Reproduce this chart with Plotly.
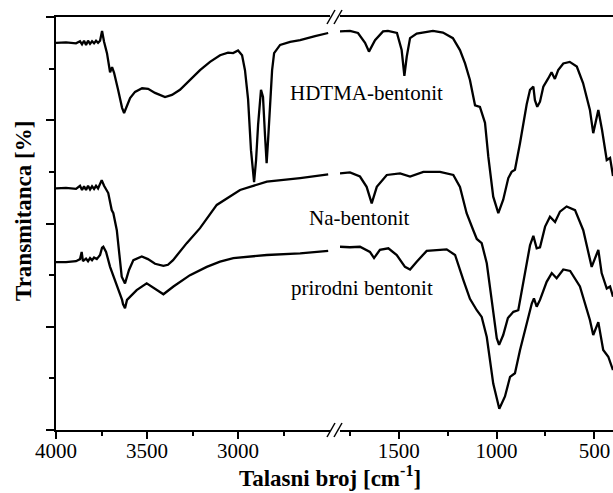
import plotly.graph_objects as go

# ---------------- data (wavenumber cm^-1, transmittance, arbitrary units) ----------------
# HDTMA-bentonit
hd_w_hi = [4000, 3945, 3890, 3868, 3857, 3846, 3835, 3824, 3813, 3802, 3791, 3780, 3769, 3758, 3747, 3736,
           3720, 3703, 3692, 3681, 3659, 3637, 3626, 3610, 3593, 3566, 3527, 3494, 3456, 3401, 3363, 3319,
           3264, 3209, 3154, 3099, 3055, 3027, 3000, 2978, 2962, 2945, 2929, 2912, 2901, 2890, 2874, 2863,
           2852, 2843, 2835, 2824, 2813, 2802, 2769, 2714, 2659, 2577, 2505]
hd_t_hi = [75.0, 75.1, 74.9, 75.3, 74.7, 75.4, 74.6, 75.4, 74.8, 75.3, 74.9, 75.4, 75.0, 75.4, 77.3, 75.2,
           73.0, 69.3, 70.3, 69.2, 65.9, 62.4, 61.4, 62.9, 64.3, 65.5, 66.2, 66.1, 65.3, 64.5, 64.9, 65.9,
           67.8, 69.7, 71.3, 72.6, 73.1, 73.0, 73.5, 72.6, 69.7, 64.1, 54.2, 48.0, 52.3, 59.1, 65.9, 64.5,
           57.1, 51.7, 56.2, 63.3, 69.7, 73.0, 74.6, 75.2, 75.5, 76.3, 76.9]
hd_w_lo = [1800, 1749, 1708, 1672, 1652, 1621, 1580, 1555, 1509, 1485, 1471, 1459, 1442, 1408, 1325, 1274,
           1223, 1187, 1161, 1136, 1110, 1085, 1059, 1042, 1017, 991, 966, 940, 923, 906, 880, 846, 829,
           812, 804, 792, 778, 761, 736, 719, 702, 685, 659, 626, 590, 558, 523, 506, 480, 461, 437, 420, 405]
hd_t_lo = [77.2, 77.3, 76.9, 75.0, 73.3, 75.5, 77.2, 77.3, 76.9, 73.6, 68.6, 72.3, 75.9, 76.8, 77.3, 77.0,
           75.9, 73.6, 71.0, 67.8, 62.9, 62.6, 59.5, 52.9, 45.2, 42.0, 44.6, 48.8, 50.0, 50.4, 55.6, 63.1, 65.9,
           66.5, 63.9, 62.6, 63.6, 66.5, 68.1, 69.3, 68.0, 69.7, 71.0, 71.3, 70.4, 67.2, 62.0, 57.5, 62.0, 58.1,
           52.3, 52.7, 49.2]

# Na-bentonit
na_w_hi = [4000, 3945, 3890, 3868, 3857, 3846, 3835, 3824, 3813, 3802, 3791, 3780, 3769, 3749, 3736, 3713,
           3694, 3685, 3666, 3639, 3621, 3599, 3575, 3529, 3495, 3456, 3410, 3385, 3357, 3282, 3209, 3117,
           2989, 2842, 2659, 2505]
na_t_hi = [46.8, 46.9, 46.7, 47.3, 46.5, 47.2, 46.5, 47.3, 46.6, 47.2, 46.7, 47.3, 46.8, 48.4, 47.3, 45.9,
           42.6, 42.0, 38.7, 29.7, 28.4, 31.0, 32.9, 33.6, 33.1, 32.2, 31.8, 32.0, 32.9, 36.2, 39.1, 43.6,
           46.5, 48.1, 48.8, 49.5]
na_w_lo = [1800, 1749, 1698, 1664, 1638, 1612, 1561, 1493, 1442, 1374, 1289, 1221, 1187, 1153, 1119, 1101,
           1076, 1050, 1025, 999, 987, 966, 942, 914, 889, 863, 829, 812, 795, 778, 752, 727, 701, 676, 642,
           599, 557, 514, 480, 463, 437, 420, 405]
na_t_lo = [49.7, 49.9, 49.1, 47.1, 43.9, 47.1, 49.4, 49.7, 49.1, 50.0, 50.0, 49.4, 47.1, 42.0, 38.7, 37.0,
           36.2, 32.3, 25.2, 17.8, 16.5, 18.4, 21.7, 22.9, 23.2, 28.7, 35.8, 37.6, 35.2, 35.4, 39.4, 41.3,
           40.3, 42.3, 43.3, 42.6, 38.7, 31.6, 34.9, 30.4, 27.4, 27.8, 25.8]

# prirodni bentonit
pr_w_hi = [4000, 3945, 3890, 3868, 3859, 3852, 3835, 3824, 3813, 3802, 3791, 3776, 3758, 3747, 3740, 3725,
           3703, 3676, 3648, 3637, 3632, 3621, 3610, 3593, 3557, 3502, 3447, 3410, 3355, 3264, 3172, 3099,
           3026, 2842, 2659, 2505]
pr_t_hi = [32.5, 32.5, 32.7, 33.1, 34.5, 32.7, 33.2, 32.7, 33.3, 32.9, 33.4, 33.1, 33.9, 35.3, 35.5, 34.5,
           31.6, 29.1, 26.2, 25.2, 24.4, 23.6, 25.2, 25.8, 27.1, 28.4, 27.1, 26.3, 27.8, 30.0, 31.6, 32.6,
           33.3, 33.9, 34.2, 34.7]
pr_w_lo = [1800, 1749, 1698, 1647, 1626, 1596, 1553, 1510, 1468, 1442, 1408, 1357, 1255, 1212, 1170, 1136,
           1101, 1076, 1050, 1017, 986, 957, 931, 906, 880, 846, 820, 809, 795, 778, 744, 718, 693, 659, 624,
           574, 523, 506, 480, 455, 429, 405]
pr_t_lo = [35.5, 35.4, 35.5, 34.5, 33.3, 34.9, 35.2, 33.9, 31.6, 31.1, 32.6, 34.7, 35.0, 33.9, 29.1, 25.4,
           23.2, 21.9, 18.0, 9.0, 4.1, 6.5, 10.3, 11.0, 15.5, 20.7, 24.5, 25.5, 23.9, 25.2, 28.7, 30.4, 29.4,
           31.1, 30.8, 27.8, 21.3, 18.4, 20.9, 15.5, 14.2, 11.6]

labels = ["HDTMA-bentonit", "Na-bentonit", "prirodni bentonit"]
x_major_hi = [4000, 3500, 3000]
x_minor_hi = [3750, 3250, 2750]
x_major_lo = [1500, 1000, 500]
x_minor_lo = [1750, 1250, 750]
x_title = "Talasni broj [cm<sup>-1</sup>]"
y_title = "Transmitanca [%]"

# ---------------- figure ----------------
W, H = 613, 493
L, R, T, B = 56, 0, 17, 63
pw, ph = W - L - R, H - T - B

def px(xp):
    return (xp - L) / pw

def py(yp):
    return (H - B - yp) / ph

FONT = "Liberation Serif"
line = dict(color="black", width=2.3)

fig = go.Figure()
for wh, th, wl, tl in [(hd_w_hi, hd_t_hi, hd_w_lo, hd_t_lo),
                       (na_w_hi, na_t_hi, na_w_lo, na_t_lo),
                       (pr_w_hi, pr_t_hi, pr_w_lo, pr_t_lo)]:
    fig.add_trace(go.Scatter(x=wh, y=th, mode="lines", line=line, xaxis="x", yaxis="y",
                             showlegend=False, hoverinfo="skip"))
    fig.add_trace(go.Scatter(x=wl, y=tl, mode="lines", line=line, xaxis="x2", yaxis="y",
                             showlegend=False, hoverinfo="skip"))

common_x = dict(showline=True, linecolor="black", linewidth=1.5, mirror=True,
                ticks="outside", ticklen=7, tickwidth=1.5, tickcolor="black",
                showgrid=False, zeroline=False, tickmode="array", ticklabelstandoff=-6,
                tickfont=dict(family=FONT, size=21, color="black"))

fig.update_layout(
    width=W, height=H,
    margin=dict(l=L, r=R, t=T, b=B),
    paper_bgcolor="white", plot_bgcolor="white",
    xaxis=dict(domain=[0, px(330)], range=[4000, 2495], anchor="y",
               tickvals=x_major_hi, ticktext=[str(v) for v in x_major_hi],
               minor=dict(tickmode="array", tickvals=x_minor_hi, ticks="outside", ticklen=4,
                          tickwidth=1.5, tickcolor="black", showgrid=False),
               **common_x),
    xaxis2=dict(domain=[px(340), 1], range=[1800, 405], anchor="y",
                tickvals=x_major_lo, ticktext=[str(v) for v in x_major_lo],
                minor=dict(tickmode="array", tickvals=x_minor_lo, ticks="outside", ticklen=4,
                           tickwidth=1.5, tickcolor="black", showgrid=False),
                **common_x),
    yaxis=dict(domain=[0, 1], range=[0, 80], showline=True, linecolor="black", linewidth=1.5,
               ticks="outside", ticklen=8, tickwidth=1.5, tickcolor="black",
               tickvals=[0, 20, 40, 60, 80], showticklabels=False,
               minor=dict(tickmode="array", tickvals=[10, 30, 50, 70], ticks="outside", ticklen=5,
                          tickwidth=1.5, tickcolor="black", showgrid=False),
               showgrid=False, zeroline=False),
)

# axis break marks
for yb in (430, 17):
    for dx in (0, 7):
        fig.add_shape(type="line", xref="paper", yref="paper",
                      x0=px(327 + dx), y0=py(yb + 7), x1=px(335 + dx), y1=py(yb - 7),
                      line=dict(color="black", width=1.5))

ann_font = dict(family=FONT, size=21, color="black")
fig.add_annotation(text=labels[0], x=px(366), y=py(93), xref="paper", yref="paper",
                   showarrow=False, font=ann_font, xanchor="center", yanchor="middle")
fig.add_annotation(text=labels[1], x=px(358.5), y=py(218), xref="paper", yref="paper",
                   showarrow=False, font=ann_font, xanchor="center", yanchor="middle")
fig.add_annotation(text=labels[2], x=px(361.5), y=py(288), xref="paper", yref="paper",
                   showarrow=False, font=ann_font, xanchor="center", yanchor="middle")

title_font = dict(family=FONT, size=23, color="black", weight="bold")
fig.add_annotation(text=x_title, x=px(330), y=py(493), xref="paper", yref="paper",
                   showarrow=False, font=title_font, xanchor="center", yanchor="bottom")
fig.add_annotation(text=y_title, x=px(23), y=py(211), xref="paper", yref="paper",
                   showarrow=False, font=title_font, xanchor="center", yanchor="middle",
                   textangle=-90)

fig.write_html("out.html")
